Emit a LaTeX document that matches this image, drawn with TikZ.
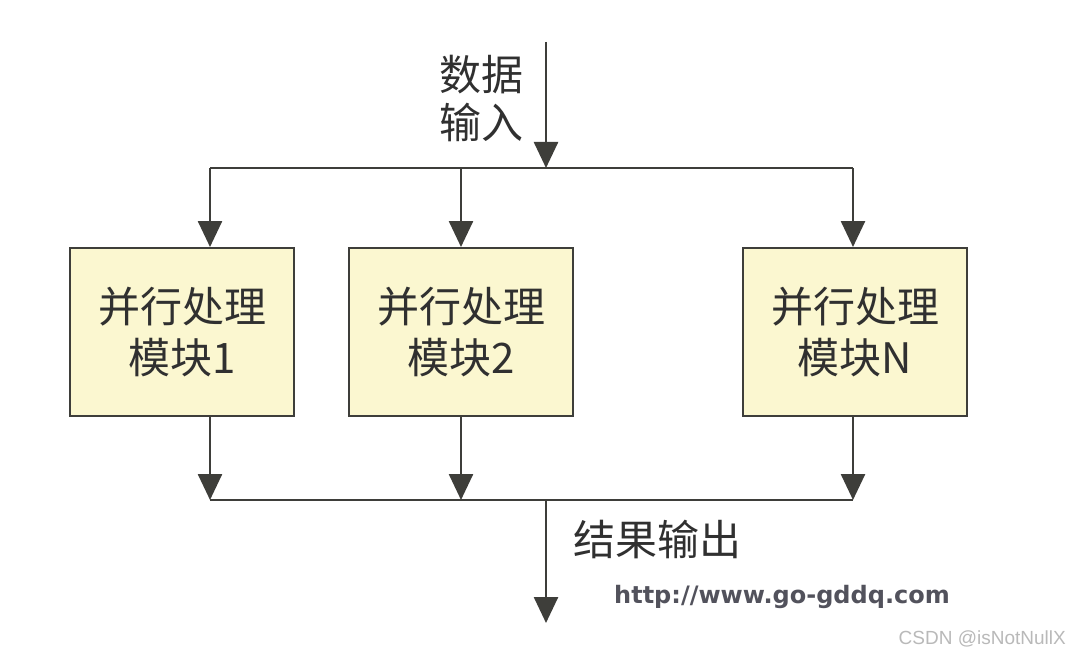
\documentclass[tikz,border=0pt]{standalone}
\usepackage{fontspec}
\setmainfont{Liberation Sans}
\newfontfamily\cjk{Noto Sans CJK SC}
\newfontfamily\urlfont{DejaVu Sans}
\usetikzlibrary{arrows.meta}
\definecolor{boxfill}{RGB}{251,247,208}
\definecolor{linegray}{RGB}{62,62,58}
\definecolor{textgray}{RGB}{48,48,48}
\definecolor{urlgray}{RGB}{82,82,92}
\definecolor{markgray}{RGB}{185,185,185}
\tikzstyle{modbox}=[draw=linegray,fill=boxfill,line width=2pt,minimum width=224pt,minimum height=168pt,inner sep=0pt,align=center,text=textgray,font=\cjk\fontsize{42}{51}\selectfont]
\tikzstyle{lbl}=[inner sep=0pt,align=left,text=textgray,font=\cjk\fontsize{42}{48}\selectfont]
\tikzstyle{flow}=[draw=linegray,line width=2.6pt,-{Triangle[width=24pt,length=26pt]}]
\tikzstyle{bus}=[draw=linegray,line width=2.6pt]
\begin{document}
\begin{tikzpicture}[line cap=butt,line join=miter,x=1pt,y=-1pt]
\useasboundingbox[fill=white] (0,0) rectangle (1076,658);
% modules
\node[modbox] (m1) at (182,332) {并行处理\\模块1};
\node[modbox] (m2) at (461,332) {并行处理\\模块2};
\node[modbox] (m3) at (855,332) {并行处理\\模块N};
% bus points
\coordinate (in) at (546,42);
\coordinate (split) at (546,168);
\coordinate (t1) at (210,168);
\coordinate (t2) at (461,168);
\coordinate (t3) at (853,168);
\coordinate (b1) at (210,500);
\coordinate (b2) at (461,500);
\coordinate (b3) at (853,500);
\coordinate (join) at (546,500);
\coordinate (out) at (546,623);
% input side
\draw[flow] (in) -- (split);
\draw[bus] (t1) -- (t3);
\draw[flow] (t1) -- (t1 |- m1.north);
\draw[flow] (t2) -- (t2 |- m2.north);
\draw[flow] (t3) -- (t3 |- m3.north);
% output side
\draw[flow] (t1 |- m1.south) -- (b1);
\draw[flow] (t2 |- m2.south) -- (b2);
\draw[flow] (t3 |- m3.south) -- (b3);
\draw[bus] (b1) -- (b3);
\draw[flow] (join) -- (out);
% labels
\node[lbl,anchor=east] (lin) at (524,98) {数据\\输入};
\node[lbl,anchor=west] (lout) at (573,539) {结果输出};
\node[inner sep=0pt,text=urlgray,font=\urlfont\bfseries\fontsize{24}{24}\selectfont] (url) at (782,597) {http://www.go-gddq.com};
\node[inner sep=0pt,text=markgray,font=\fontsize{19}{19}\selectfont,anchor=east] (mark) at (1066,639) {CSDN @isNotNullX};
\end{tikzpicture}
\end{document}
